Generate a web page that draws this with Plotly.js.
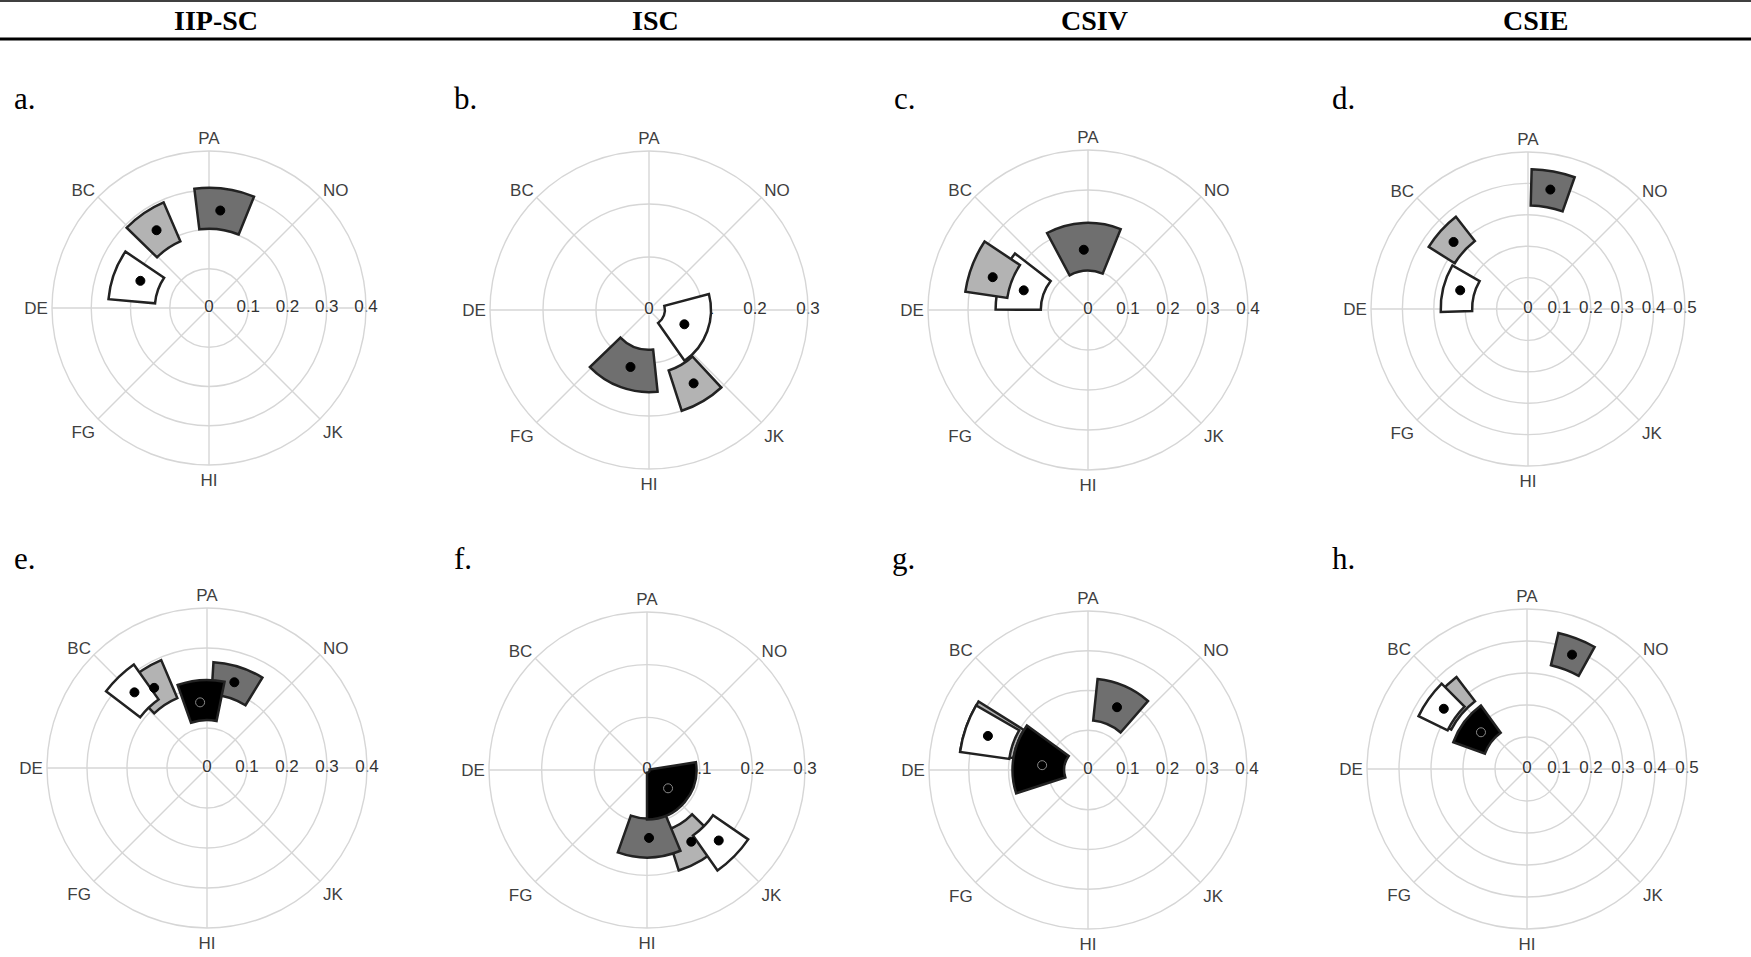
<!DOCTYPE html>
<html><head><meta charset="utf-8">
<script src="https://cdn.plot.ly/plotly-3.0.1.min.js"></script>
<style>html,body{margin:0;padding:0;background:#fff;} #chart{width:1751px;height:957px;}</style>
</head><body><div id="chart"></div>
<script>
// ---------------- data ----------------
const columnTitles = ['IIP-SC', 'ISC', 'CSIV', 'CSIE'];
const panelLabels = ['a.', 'b.', 'c.', 'd.', 'e.', 'f.', 'g.', 'h.'];
const directionAngles = [0, 45, 90, 135, 180, 225, 270, 315];
const directionLabels = ['PA', 'NO', '', 'JK', 'HI', 'FG', 'DE', 'BC'];
const radialMax = [0.4, 0.3, 0.4, 0.5, 0.4, 0.3, 0.4, 0.5];
const radialTicks = [
  [0, 0.1, 0.2, 0.3, 0.4], [0, 0.1, 0.2, 0.3], [0, 0.1, 0.2, 0.3, 0.4], [0, 0.1, 0.2, 0.3, 0.4, 0.5],
  [0, 0.1, 0.2, 0.3, 0.4], [0, 0.1, 0.2, 0.3], [0, 0.1, 0.2, 0.3, 0.4], [0, 0.1, 0.2, 0.3, 0.4, 0.5]
];
const radialTickText = radialTicks.map(a => a.map(v => String(v)));

// one entry per panel a..h (null = not present / not visible)
const darkTheta    = [7.5, 200, 357, 10.5, 17.5, 178.5, 23.5, 21];
const darkWidth    = [29, 52, 50, 18, 28, 42, 35, 16];
const darkInner    = [0.202, 0.075, 0.098, 0.33, 0.184, 0.092, 0.125, 0.333];
const darkOuter    = [0.306, 0.155, 0.218, 0.445, 0.265, 0.166, 0.23, 0.436];
const darkDotTheta = [6.6, 198, 356, 10.6, 17.7, 178.3, 24.8, 21.5];
const darkDotR     = [0.25, 0.113, 0.151, 0.387, 0.225, 0.129, 0.174, 0.384];

const lightTheta    = [325.5, 149.5, 291, 312, 326.5, 148.5, 290.5, 310];
const lightWidth    = [22.5, 25, 25, 20, 21, 28, 23, 25];
const lightInner    = [0.185, 0.12, 0.204, 0.275, 0.19, 0.12, 0.19, 0.267];
const lightOuter    = [0.293, 0.2, 0.31, 0.373, 0.293, 0.2, 0.325, 0.362];
const lightDotTheta = [326, 148.7, 289, 312, 326.6, 148.3, null, null];
const lightDotR     = [0.239, 0.162, 0.252, 0.319, 0.24, 0.16, null, null];

const whiteTheta    = [289.5, 110, 289, 284, 316, 134.7, 289, 305.5];
const whiteWidth    = [29, 70, 37.5, 32, 17.5, 20.5, 22, 19];
const whiteInner    = [0.138, 0.03, 0.118, 0.178, 0.21, 0.152, 0.2, 0.276];
const whiteOuter    = [0.257, 0.117, 0.231, 0.278, 0.317, 0.233, 0.325, 0.377];
const whiteDotTheta = [291.6, 112, 287, 285.4, 316.2, 134.5, 288.8, 305.9];
const whiteDotR     = [0.188, 0.072, 0.168, 0.224, 0.262, 0.191, 0.266, 0.321];

const blackTheta    = [null, null, null, null, 356, 130.5, 279, 307];
const blackWidth    = [null, null, null, null, 31, 99, 54, 34];
const blackInner    = [null, null, null, null, 0.12, 0.005, 0.06, 0.14];
const blackOuter    = [null, null, null, null, 0.22, 0.094, 0.19, 0.245];
const blackDotTheta = [null, null, null, null, 354, 131, 276, 308.6];
const blackDotR     = [null, null, null, null, 0.165, 0.053, 0.116, 0.184];

// ---------------- styles / layout ----------------
const W = 1751, H = 957;
const series = {
  dark:  {theta: darkTheta,  width: darkWidth,  inner: darkInner,  outer: darkOuter,  dt: darkDotTheta,  dr: darkDotR,  fill: '#6f6f6f', dotLine: '#000000'},
  light: {theta: lightTheta, width: lightWidth, inner: lightInner, outer: lightOuter, dt: lightDotTheta, dr: lightDotR, fill: '#b3b3b3', dotLine: '#000000'},
  white: {theta: whiteTheta, width: whiteWidth, inner: whiteInner, outer: whiteOuter, dt: whiteDotTheta, dr: whiteDotR, fill: '#ffffff', dotLine: '#000000'},
  black: {theta: blackTheta, width: blackWidth, inner: blackInner, outer: blackOuter, dt: blackDotTheta, dr: blackDotR, fill: '#000000', dotLine: '#8a8a8a'}
};
const drawOrder = [
  ['white', 'light', 'dark'], ['white', 'light', 'dark'], ['white', 'light', 'dark'], ['white', 'light', 'dark'],
  ['dark', 'black', 'light', 'white'], ['light', 'white', 'dark', 'black'],
  ['light', 'white', 'dark', 'black'], ['light', 'white', 'dark', 'black']
];
const centers = [[209, 308], [649, 310], [1088, 310], [1528, 309], [207, 768], [647, 770], [1088, 770], [1527, 769]];
const radiiPx = [157, 159, 160, 157, 160, 158, 159, 160];
const titleX = [216, 655, 1094, 1535];
const letterX = [12, 452, 892, 1330, 12, 452, 890, 1330];
const letterY = [98, 98, 98, 98, 558, 558, 558, 558];

const sansFont = 'Liberation Sans, Arial, sans-serif';
const gridCol = '#d6d6d6';
const bgId = p => 'polar' + (p + 2);
const fgId = p => 'polar' + (p + 90);

const traces = [];
// background label traces (radial tick labels drawn on the axis line)
for (let p = 0; p < 8; p++) {
  traces.push({
    type: 'scatterpolar', subplot: bgId(p), mode: 'text',
    r: radialTicks[p], theta: radialTicks[p].map(() => 90), text: radialTickText[p],
    textposition: 'middle center', cliponaxis: false, hoverinfo: 'skip', showlegend: false,
    textfont: {family: sansFont, size: 17, color: '#333333',
               shadow: '0px 0px 2px #ffffff, 0px 0px 2px #ffffff, 0px 0px 3px #ffffff'}
  });
}
// sectors and centre dots
for (let p = 0; p < 8; p++) {
  drawOrder[p].forEach(k => {
    const s = series[k];
    if (s.theta[p] === null) return;
    traces.push({
      type: 'barpolar', subplot: fgId(p), hoverinfo: 'skip', showlegend: false,
      r: [s.outer[p] - s.inner[p]], base: [s.inner[p]], theta: [s.theta[p]], width: [s.width[p]],
      marker: {color: s.fill, line: {color: '#222222', width: 2.5}}
    });
  });
  drawOrder[p].forEach(k => {
    const s = series[k];
    if (s.dr[p] === null) return;
    traces.push({
      type: 'scatterpolar', subplot: fgId(p), mode: 'markers', hoverinfo: 'skip', showlegend: false,
      r: [s.dr[p]], theta: [s.dt[p]],
      marker: {size: 9, color: '#000000', line: {color: s.dotLine, width: 1}}
    });
  });
}

const layout = {
  width: W, height: H, autosize: false,
  margin: {l: 0, r: 0, t: 0, b: 0, pad: 0},
  paper_bgcolor: '#ffffff', showlegend: false,
  annotations: [], shapes: []
};
for (let p = 0; p < 8; p++) {
  const [cx, cy] = centers[p], R = radiiPx[p];
  const domain = {x: [(cx - R) / W, (cx + R) / W], y: [(H - cy - R) / H, (H - cy + R) / H]};
  layout[bgId(p)] = {
    domain: domain, bgcolor: '#ffffff',
    angularaxis: {
      direction: 'clockwise', rotation: 90, tickmode: 'array',
      tickvals: directionAngles, ticktext: directionLabels, ticks: '',
      showline: true, linecolor: gridCol, linewidth: 1.4,
      showgrid: true, gridcolor: gridCol, gridwidth: 1.4,
      tickfont: {family: sansFont, size: 17, color: '#3f3f3f'}
    },
    radialaxis: {
      range: [0, radialMax[p]], tickmode: 'array', tickvals: radialTicks[p],
      showticklabels: false, ticks: '', showline: false, angle: 0,
      showgrid: true, gridcolor: gridCol, gridwidth: 1.4
    }
  };
  layout[fgId(p)] = {
    domain: domain, bgcolor: 'rgba(0,0,0,0)', barmode: 'overlay',
    angularaxis: {direction: 'clockwise', rotation: 90, showticklabels: false, ticks: '',
                  showline: false, showgrid: false},
    radialaxis: {range: [0, radialMax[p]], showticklabels: false, ticks: '',
                 showline: false, showgrid: false}
  };
  layout.annotations.push({
    text: panelLabels[p], xref: 'paper', yref: 'paper', x: letterX[p] / W, y: 1 - letterY[p] / H,
    xanchor: 'left', yanchor: 'middle', showarrow: false,
    font: {family: 'Liberation Serif, Times New Roman, serif', size: 31, color: '#000000'}
  });
}
columnTitles.forEach((t, i) => {
  layout.annotations.push({
    text: t, xref: 'paper', yref: 'paper', x: titleX[i] / W, y: 1 - 20 / H,
    xanchor: 'center', yanchor: 'middle', showarrow: false,
    font: {family: 'Liberation Serif, Times New Roman, serif', size: 28, color: '#000000', weight: 'bold'}
  });
});
layout.shapes.push(
  {type: 'line', xref: 'paper', yref: 'paper', x0: 0, x1: 1, y0: 1 - 1 / H, y1: 1 - 1 / H, line: {color: '#000', width: 1.5}},
  {type: 'line', xref: 'paper', yref: 'paper', x0: 0, x1: 1, y0: 1 - 39 / H, y1: 1 - 39 / H, line: {color: '#000', width: 3.2}}
);

Plotly.newPlot('chart', traces, layout, {staticPlot: true, displayModeBar: false});
</script>
</body></html>
